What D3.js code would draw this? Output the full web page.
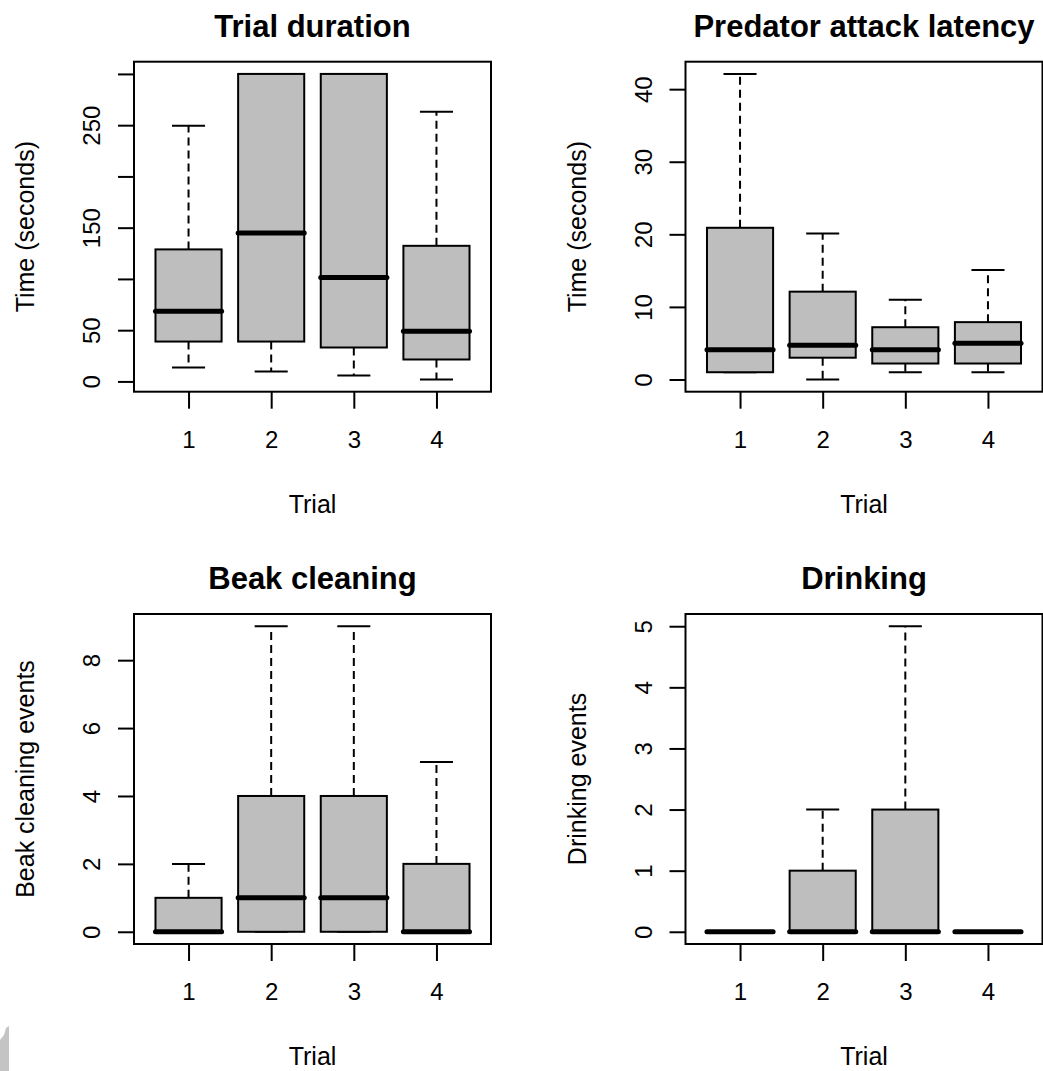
<!DOCTYPE html>
<html>
<head>
<meta charset="utf-8">
<script src="https://cdn.jsdelivr.net/npm/d3@7"></script>
<style>
  body { margin: 0; background: #fff; }
  svg { display: block; }
  text { font-family: "Liberation Sans", Arial, sans-serif; fill: #000; }
</style>
</head>
<body>
<script>
// Trial categories shared by all four panels
var trials = [1, 2, 3, 4];

// Five number summaries per trial: [low whisker, low hinge, median, high hinge, high whisker]
var durationStats = [
  [13.6, 38.9, 68.4, 128.8, 249.4],
  [9.7, 38.9, 144.7, 300, 300],
  [5.8, 33.1, 101.5, 300, 300],
  [1.9, 21.4, 49, 132.3, 263]
];
var latencyStats = [
  [1, 1, 4.1, 20.9, 42.1],
  [0, 3, 4.7, 12.1, 20.1],
  [1, 2.2, 4.1, 7.2, 11],
  [1, 2.2, 5, 7.9, 15.1]
];
var beakStats = [
  [0, 0, 0, 1, 2],
  [0, 0, 1, 4, 9],
  [0, 0, 1, 4, 9],
  [0, 0, 0, 2, 5]
];
var drinkStats = [
  [0, 0, 0, 0, 0],
  [0, 0, 0, 1, 2],
  [0, 0, 0, 2, 5],
  [0, 0, 0, 0, 0]
];

// y tick values and the labels R actually printed (some dropped for overlap)
var durationTicks = [0, 50, 100, 150, 200, 250, 300];
var durationTickLabels = ["0", "50", "", "150", "", "250", ""];
var latencyTicks = [0, 10, 20, 30, 40];
var latencyTickLabels = ["0", "10", "20", "30", "40"];
var beakTicks = [0, 2, 4, 6, 8];
var beakTickLabels = ["0", "2", "4", "6", "8"];
var drinkTicks = [0, 1, 2, 3, 4, 5];
var drinkTickLabels = ["0", "1", "2", "3", "4", "5"];

var svgWidth = 1043;
var svgHeight = 1071;

// plot region of each panel (inside the frame)
var plotW = 357;
var plotH = 330;

var panels = [
  { title: "Trial duration", ylab: "Time (seconds)", stats: durationStats, ticks: durationTicks, labels: durationTickLabels, left: 134, top: 61.7 },
  { title: "Predator attack latency", ylab: "Time (seconds)", stats: latencyStats, ticks: latencyTicks, labels: latencyTickLabels, left: 685.5, top: 61.7 },
  { title: "Beak cleaning", ylab: "Beak cleaning events", stats: beakStats, ticks: beakTicks, labels: beakTickLabels, left: 134, top: 614 },
  { title: "Drinking", ylab: "Drinking events", stats: drinkStats, ticks: drinkTicks, labels: drinkTickLabels, left: 685.5, top: 614 }
];

var svg = d3.select("body")
  .append("svg")
  .attr("width", svgWidth)
  .attr("height", svgHeight);

svg.append("rect")
  .attr("width", svgWidth)
  .attr("height", svgHeight)
  .attr("fill", "#fff");

var lineW = 2;

panels.forEach(function(p) {
  var g = svg.append("g")
    .attr("transform", `translate(${p.left}, ${p.top})`);

  // R style: extend the data range by 4% on each side
  var lo = d3.min(p.stats, d => d[0]);
  var hi = d3.max(p.stats, d => d[4]);
  var pad = (hi - lo) * 0.04;
  var y = d3.scaleLinear()
    .domain([lo - pad, hi + pad])
    .range([plotH, 0]);

  var x = d3.scaleLinear()
    .domain([0.5 - 0.16, 4.5 + 0.16])
    .range([0, plotW]);

  var boxW = x(1.4) - x(1);   // half of 0.8 box width
  var capW = boxW / 2;

  // axes
  var yAxis = d3.axisLeft(y)
    .tickValues(p.ticks)
    .tickSize(16)
    .tickFormat((d, i) => p.labels[i]);

  var ya = g.append("g").call(yAxis);
  ya.select(".domain").remove();
  ya.selectAll("line").attr("stroke", "#000").attr("stroke-width", lineW);
  ya.selectAll("text")
    .attr("transform", "rotate(-90)")
    .attr("x", 0)
    .attr("y", -34)
    .attr("dy", 0)
    .style("text-anchor", "middle")
    .style("font-size", "24px")
    .style("font-family", "'Liberation Sans', Arial, sans-serif")
    .attr("fill", "#000");

  var xAxis = d3.axisBottom(x)
    .tickValues(trials)
    .tickSize(17)
    .tickFormat(d3.format("d"));

  var xa = g.append("g")
    .attr("transform", `translate(0, ${plotH})`)
    .call(xAxis);
  xa.select(".domain").remove();
  xa.selectAll("line").attr("stroke", "#000").attr("stroke-width", lineW);
  xa.selectAll("text")
    .attr("y", 56)
    .attr("dy", 0)
    .style("font-size", "24px")
    .style("font-family", "'Liberation Sans', Arial, sans-serif")
    .attr("fill", "#000");

  // boxes
  var box = g.selectAll(".box")
    .data(p.stats)
    .enter().append("g")
    .attr("class", "box");

  // dashed whiskers
  box.append("line")
    .attr("x1", (d, i) => x(trials[i]))
    .attr("x2", (d, i) => x(trials[i]))
    .attr("y1", d => y(d[3]))
    .attr("y2", d => y(d[4]))
    .attr("stroke", "#000")
    .attr("stroke-width", lineW)
    .attr("stroke-dasharray", "8,5");

  box.append("line")
    .attr("x1", (d, i) => x(trials[i]))
    .attr("x2", (d, i) => x(trials[i]))
    .attr("y1", d => y(d[1]))
    .attr("y2", d => y(d[0]))
    .attr("stroke", "#000")
    .attr("stroke-width", lineW)
    .attr("stroke-dasharray", "8,5");

  // staples
  [0, 4].forEach(function(k) {
    box.append("line")
      .attr("x1", (d, i) => x(trials[i]) - capW)
      .attr("x2", (d, i) => x(trials[i]) + capW)
      .attr("y1", d => y(d[k]))
      .attr("y2", d => y(d[k]))
      .attr("stroke", "#000")
      .attr("stroke-width", lineW);
  });

  box.append("rect")
    .attr("x", (d, i) => x(trials[i]) - boxW)
    .attr("width", boxW * 2)
    .attr("y", d => y(d[3]))
    .attr("height", d => y(d[1]) - y(d[3]))
    .attr("fill", "#bebebe")
    .attr("stroke", "#000")
    .attr("stroke-width", lineW);

  box.append("line")
    .attr("x1", (d, i) => x(trials[i]) - boxW)
    .attr("x2", (d, i) => x(trials[i]) + boxW)
    .attr("y1", d => y(d[2]))
    .attr("y2", d => y(d[2]))
    .attr("stroke", "#000")
    .attr("stroke-width", 5)
    .attr("stroke-linecap", "round");

  // frame
  g.append("rect")
    .attr("width", plotW)
    .attr("height", plotH)
    .attr("fill", "none")
    .attr("stroke", "#000")
    .attr("stroke-width", lineW);

  // titles
  g.append("text")
    .attr("x", plotW / 2)
    .attr("y", -25)
    .attr("text-anchor", "middle")
    .style("font-size", "31px")
    .style("font-weight", "bold")
    .text(p.title);

  g.append("text")
    .attr("x", plotW / 2)
    .attr("y", plotH + 121)
    .attr("text-anchor", "middle")
    .style("font-size", "25px")
    .text("Trial");

  g.append("text")
    .attr("transform", `translate(-100, ${plotH / 2}) rotate(-90)`)
    .attr("text-anchor", "middle")
    .style("font-size", "25px")
    .text(p.ylab);
});

// grey scrap in the bottom left corner of the screenshot
svg.append("path")
  .attr("d", "M0,1040 L4,1035 L6,1028 L9,1026 L9,1071 L0,1071 Z")
  .attr("fill", "#c4c4c4");
</script>
</body>
</html>
